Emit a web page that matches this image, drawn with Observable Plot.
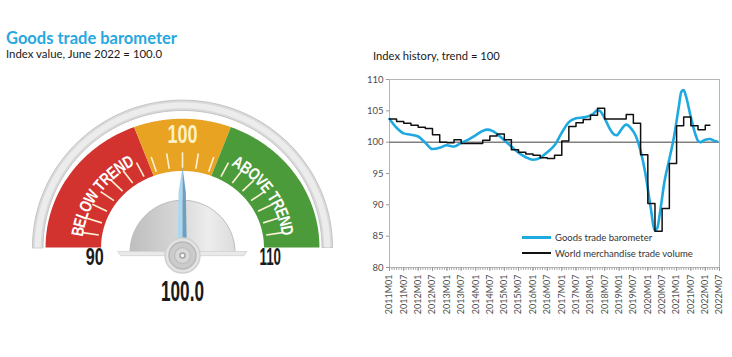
<!DOCTYPE html>
<html><head><meta charset="utf-8">
<script src="https://cdn.jsdelivr.net/npm/d3@7"></script>
<script src="https://cdn.jsdelivr.net/npm/@observablehq/plot@0.6"></script>
<style>
body{margin:0;background:#fff;}
#page{position:relative;width:732px;height:357px;overflow:hidden;font-family:Lato,"Open Sans",sans-serif;}
.abs{position:absolute;white-space:nowrap;}
#title{left:6px;top:32px;font-weight:700;font-size:16.5px;line-height:13px;height:13px;color:#27a8df;}
#sub1{left:6px;top:48.6px;font-size:11.4px;line-height:10px;height:10px;color:#1a1a1a;}
#sub2{left:373px;top:50px;font-size:11.2px;line-height:11px;color:#1a1a1a;}
#legend{left:522px;top:229px;font-size:9.5px;color:#333;}
#legend .row{display:flex;align-items:center;height:16px;}
#legend .sw{display:inline-block;width:29px;margin-right:4px;}
</style></head><body>
<div id="page">
  <div class="abs" id="title">Goods trade barometer</div>
  <div class="abs" id="sub1">Index value, June 2022 = 100.0</div>
  <div class="abs" id="sub2">Index history, trend = 100</div>
  <div class="abs" id="gauge" style="left:0;top:85px"></div>
  <div class="abs" id="chart" style="left:360px;top:70px"></div>
  <div class="abs" id="legend">
    <div class="row"><span class="sw" style="height:3px;background:#1fa9e1"></span><span>Goods trade barometer</span></div>
    <div class="row"><span class="sw" style="height:1.6px;background:#111"></span><span>World merchandise trade volume</span></div>
  </div>
</div>
<script>
// ---------------- DATA ----------------
const gaugeValue = 100.0;
const gaugeMin = 90, gaugeMax = 110;
const gaugeEndLabels = [90, 110];
const gaugeMidLabel = [100];
const bandFrom = [90, 97.7, 102.3];
const bandTo = [97.7, 102.3, 110];
const bandColors = ["#d2332e", "#e8a323", "#4c9b3b"];
const bandTexts = ["BELOW TREND", "ABOVE TREND"];
const bandTextAt = [93.8, 106.2];
const gaugeTicks = [91,92,93,94,95,96,97,98,99,100,101,102,103,104,105,106,107,108,109];

const baroMonths = ["2011M01","2011M04","2011M07","2011M10","2012M01","2012M04","2012M07","2012M10","2013M01","2013M04","2013M07","2013M10","2014M01","2014M04","2014M06","2014M08","2014M10","2015M01","2015M04","2015M07","2015M10","2016M01","2016M04","2016M07","2016M10","2017M01","2017M04","2017M07","2017M11","2018M02","2018M04","2018M05","2018M07","2018M09","2018M11","2018M12","2019M02","2019M04","2019M06","2019M08","2019M10","2019M12","2020M02","2020M04","2020M05","2020M06","2020M08","2020M10","2020M12","2021M02","2021M03","2021M04","2021M05","2021M07","2021M09","2021M10","2021M11","2022M01","2022M03","2022M05","2022M06"];
const baroValues = [103.7,102.3,101.4,101.2,100.9,99.9,98.9,99.1,99.5,99.3,99.9,100.4,101.1,101.8,102.0,101.8,101.3,100.3,99.3,98.3,97.6,97.2,97.5,98.4,99.5,101.5,103.2,103.8,104.0,104.5,105.1,105.0,103.8,102.2,101.2,101.1,102.1,102.8,102.2,101.0,98.6,95.0,90.0,85.9,86.3,88.5,93.8,97.3,101.0,105.9,108.0,108.3,107.3,104.0,101.1,100.2,100.0,100.4,100.5,100.2,100.1];

const volMonths = ["2011M01","2011M04","2011M07","2011M10","2012M01","2012M04","2012M07","2012M10","2013M01","2013M04","2013M07","2013M10","2014M01","2014M04","2014M07","2014M10","2015M01","2015M04","2015M07","2015M10","2016M01","2016M04","2016M07","2016M10","2017M01","2017M04","2017M07","2017M10","2018M01","2018M04","2018M07","2018M10","2019M01","2019M04","2019M07","2019M10","2020M01","2020M04","2020M07","2020M10","2021M01","2021M04","2021M07","2021M10","2022M01","2022M03"];
const volValues = [103.7,103.3,103.0,102.7,102.4,102.2,101.2,100.0,99.9,100.4,99.8,99.8,99.8,100.3,101.0,101.3,100.4,98.8,98.4,98.1,97.9,97.5,97.4,97.9,100.2,102.5,103.1,103.6,104.3,105.4,103.7,103.7,103.7,104.4,103.0,98.0,90.2,85.8,89.4,96.6,102.6,104.0,102.6,102.0,102.7,102.7];

const yTicks = [80,85,90,95,100,105,110];
const xTickLabels = ["2011M01","2011M07","2012M01","2012M07","2013M01","2013M07","2014M01","2014M07","2015M01","2015M07","2016M01","2016M07","2017M01","2017M07","2018M01","2018M07","2019M01","2019M07","2020M01","2020M07","2021M01","2021M07","2022M01","2022M07"];

// ---------------- HELPERS ----------------
const parseM = s => new Date(Date.UTC(+s.slice(0,4), +s.slice(5,7) - 1, 1));
const fmtM = d => xTickLabels.find(l => +parseM(l) === +d) || "";
const baro = baroMonths.map((m, i) => ({date: parseM(m), value: baroValues[i]}));
const vol = volMonths.map((m, i) => ({date: parseM(m), value: volValues[i]}));
const xTicks = xTickLabels.map(parseM);
const xDomain = [xTicks[0], xTicks[xTicks.length - 1]];
const monthTicks = d3.utcMonth.range(xDomain[0], d3.utcMonth.offset(xDomain[1], 1));

// ---------------- LINE CHART ----------------
const chart = Plot.plot({
  width: 372, height: 250,
  marginLeft: 29, marginRight: 13, marginTop: 9, marginBottom: 53,
  style: {fontFamily: "Lato, sans-serif", color: "#4d4d4d", background: "transparent"},
  x: {type: "utc", domain: xDomain},
  y: {domain: [80, 110]},
  marks: [
    Plot.frame({stroke: "#b5b5b5"}),
    Plot.axisY({ticks: yTicks, tickSize: 3, tickPadding: 3, fontSize: 9.5, stroke: "#999", label: null}),
    Plot.axisX({ticks: monthTicks, tickSize: 3, tickFormat: () => "", stroke: "#aaa", label: null}),
    Plot.axisX({ticks: xTicks, tickSize: 4, tickPadding: 3, tickRotate: -90, tickFormat: fmtM, fontSize: 9, stroke: "#999", label: null}),
    Plot.ruleY([100], {stroke: "#808080", strokeWidth: 1.5}),
    Plot.line(baro, {x: "date", y: "value", stroke: "#1fa9e1", strokeWidth: 2.6, curve: "monotone-x"}),
    Plot.line(vol, {x: "date", y: "value", stroke: "#111", strokeWidth: 1.5, curve: "step-after"})
  ]
});
document.getElementById("chart").append(chart);

// ---------------- GAUGE ----------------
const gfont = "'Liberation Sans', Arial, sans-serif";
const kx = 150, ky = 141;
const ang = d3.scaleLinear().domain([gaugeMin, gaugeMax]).range([Math.PI, 0]);
const polar = (v, r, ry = 1) => [r * Math.cos(ang(v)), r * ry * Math.sin(ang(v))];
const steps = d3.range(0, 1.00001, 1 / 90);
function ring(v0, v1, r0, r1, ry = 1) {
  const outer = steps.map(t => polar(v0 + (v1 - v0) * t, r1, ry));
  const inner = steps.map(t => polar(v1 - (v1 - v0) * t, r0, ry));
  return outer.concat(inner);
}
function ellipseTop(cx, cy, rx, ry) {
  return steps.map(t => { const a = Math.PI * (1 - t); return [cx + rx * Math.cos(a), cy + ry * Math.sin(a)]; });
}
const poly = (pts, opts) => Plot.line(pts, {x: d => d[0], y: d => d[1], curve: "linear-closed", stroke: "none", ...opts});

const letterSize = 17, letterSqueeze = 0.78;
const ctx = document.createElement("canvas").getContext("2d");
function arcLetters(label, vMid, r) {
  ctx.font = `bold ${letterSize}px ${gfont}`;
  const chars = Array.from(label);
  const w = chars.map(c => ctx.measureText(c).width * letterSqueeze);
  const total = d3.sum(w);
  const kAvg = (kx + ky) / 2;
  const th0 = ang(vMid);
  let acc = -total / 2;
  return chars.map((c, i) => {
    const s = acc + w[i] / 2; acc += w[i];
    const th = th0 - s / (r * kAvg);
    const rot = Math.atan2(ky * Math.cos(th), kx * Math.sin(th)) * 180 / Math.PI;
    return {c, x: r * Math.cos(th), y: r * Math.sin(th), rot, tl: w[i]};
  }).filter(d => d.c !== " ");
}
const letters = bandTexts.flatMap((t, i) => arcLetters(t, bandTextAt[i], 0.705));

// needle
const a = ang(gaugeValue);
const dir = [Math.cos(a), Math.sin(a)], perp = [Math.sin(a), -Math.cos(a)];
const hub = [0, -0.057];
const along = r => [hub[0] + dir[0] * r, hub[1] + dir[1] * r];
const off = (p, w) => [p[0] + perp[0] * w, p[1] + perp[1] * w];
const tip = along(0.63), mid = along(0.45), base = along(-0.02);
const needleL = [tip, off(mid, -0.026), off(base, -0.034), base, mid];
const needleR = [tip, mid, base, off(base, 0.03), off(mid, 0.022)];

const gauge = Plot.plot({
  width: 370, height: 230, margin: 0,
  x: {domain: [-1, 1], range: [182 - kx, 182 + kx], axis: null},
  y: {domain: [0, 1], range: [162, 162 - ky], axis: null},
  style: {background: "transparent", overflow: "visible"},
  marks: [
    poly(ring(gaugeMin, gaugeMax, 0.93, 1.0, 1.045), {fill: "#dadada", stroke: "#c4c4c4", strokeWidth: 1}),
    poly(ring(gaugeMin, gaugeMax, 0.945, 0.985, 1.045), {fill: "#ececec"}),
    ...bandFrom.map((v0, i) => poly(ring(v0, bandTo[i], 0.543, 0.913), {fill: bandColors[i]})),
    Plot.link(gaugeTicks, {
      x1: v => polar(v, 0.565)[0], y1: v => polar(v, 0.565)[1],
      x2: v => polar(v, 0.675)[0], y2: v => polar(v, 0.675)[1],
      stroke: "#fbf1d6", strokeWidth: 1.6
    }),
    Plot.text(gaugeMidLabel, {x: v => polar(v, 0.80)[0], y: v => polar(v, 0.80)[1], text: d => String(d),
      fill: "#fdf1c4", fontSize: 25, fontWeight: "bold", fontFamily: gfont}),
    Plot.text(letters, {x: "x", y: "y", text: "c", rotate: "rot", fill: "#ffffff", fontSize: letterSize, fontWeight: "bold", fontFamily: gfont}),
    poly(ellipseTop(0, -0.035, 0.35, 0.37), {fill: "url(#domeGrad)", stroke: "#bcbcbc", strokeWidth: 1}),
    poly([[-0.43, -0.028], [0.43, -0.028], [0.41, -0.058], [-0.41, -0.058]], {fill: "#e9e9e9", stroke: "#d2d2d2", strokeWidth: 0.8}),
    poly(needleL, {fill: "#a9d8f3"}),
    poly(needleR, {fill: "#6f9fbf"}),
    Plot.dot([hub], {x: d => d[0], y: d => d[1], r: 17.5, fill: "#e3e3e3", stroke: "#d0d0d0"}),
    Plot.dot([hub], {x: d => d[0], y: d => d[1], r: 13.5, fill: "#cbcbcb", stroke: "#b9b9b9"}),
    Plot.dot([hub], {x: d => d[0], y: d => d[1], r: 8, fill: "#d8d8d8", stroke: "#c0c0c0"}),
    Plot.dot([hub], {x: d => d[0], y: d => d[1], r: 2.5, fill: "#f7f7f7", stroke: "#a5a5a5"}),
    Plot.text(gaugeEndLabels, {x: v => polar(v, 0.585)[0], y: v => polar(v, 0.585)[1], dy: 10, text: d => String(d),
      fill: "#1a1a1a", fontSize: 23, fontWeight: "bold", fontFamily: gfont}),
    Plot.text([gaugeValue], {x: 0, y: -0.31, text: d => d3.format(".1f")(d),
      fill: "#1a1a1a", fontSize: 30, fontWeight: "bold", fontFamily: gfont})
  ]
});
d3.select(gauge).insert("defs", ":first-child").html(
  `<linearGradient id="domeGrad" x1="0" x2="1" y1="0" y2="0">
     <stop offset="0" stop-color="#bebebe"/><stop offset="0.45" stop-color="#d6d6d6"/>
     <stop offset="0.75" stop-color="#ededed"/><stop offset="1" stop-color="#dcdcdc"/>
   </linearGradient>`);
const squeeze = {"90": 18, "110": 21.5, "100": 30, "100.0": 43};
let li = 0;
d3.select(gauge).selectAll("text").each(function() {
  const t = this.textContent;
  if (squeeze[t]) {
    this.setAttribute("textLength", squeeze[t]);
    this.setAttribute("lengthAdjust", "spacingAndGlyphs");
  } else if (/^[A-Z]$/.test(t) && li < letters.length) {
    this.setAttribute("textLength", letters[li++].tl);
    this.setAttribute("lengthAdjust", "spacingAndGlyphs");
  }
});
document.getElementById("gauge").append(gauge);
</script>
</body></html>
